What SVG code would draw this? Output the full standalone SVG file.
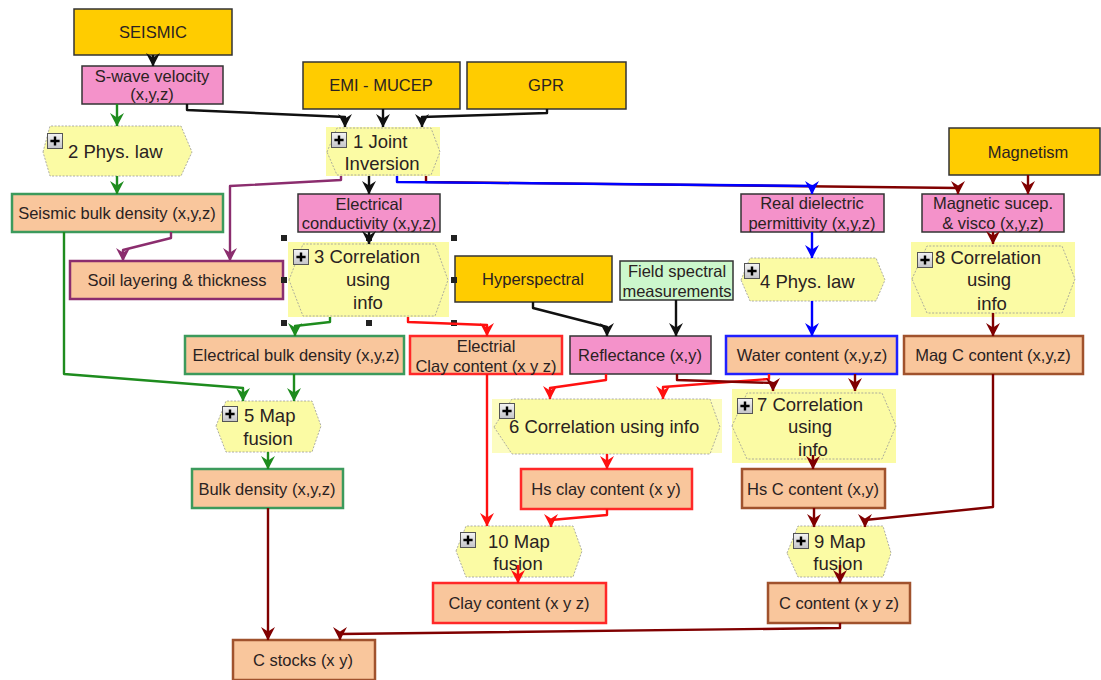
<svg xmlns="http://www.w3.org/2000/svg" width="1101" height="680" viewBox="0 0 1101 680">
<style>
.t{font-family:"Liberation Sans",Arial,sans-serif;font-size:16.5px;fill:#2a2222}
.h{font-size:18.5px}
.m{text-anchor:middle}
.o{fill:#FFCC00;stroke:#333;stroke-width:1.5}
.p{fill:#F492CA;stroke:#333;stroke-width:1.5}
.gl{fill:#CCF7CC;stroke:#333;stroke-width:1.5}
.k{fill:#F9C69C;stroke-width:2.5}
.bg{fill:#FBFBA4}
.hx{fill:#FBFBA4;stroke:#999;stroke-width:0.8;stroke-dasharray:2 1.5}
.sg{stroke:#3C9A5C}.sr{stroke:#FF2828}.sb{stroke:#2020FF}.sp{stroke:#8B2D6E}.sn{stroke:#A0522D}
.c{fill:none;stroke-width:2.4;stroke-linejoin:round}
.ck{stroke:#111}.cg{stroke:#1E8C1E}.cp{stroke:#8B2D6E}.cb{stroke:#0000FF}.cd{stroke:#800000}.cr{stroke:#FF1010}
.hd{fill:#222}
</style>
<defs>
<linearGradient id="pg" x1="0" y1="0" x2="0" y2="1"><stop offset="0" stop-color="#F4F4F4"/><stop offset="1" stop-color="#C4C4C8"/></linearGradient>
<symbol id="plus" viewBox="0 0 16 16" width="16" height="16" overflow="visible">
<rect x="0.5" y="0.5" width="15" height="15" fill="url(#pg)" stroke="#555" stroke-width="1"/>
<path d="M8 3.4V12.6M3.4 8H12.6" stroke="#000" stroke-width="2.4"/>
</symbol>
<marker id="ak" viewBox="-14 -8 15 16" refX="0" refY="0" markerWidth="15" markerHeight="16" markerUnits="userSpaceOnUse" orient="auto"><path d="M0.5,0 L-13,-7 L-8.5,0 L-13,7 Z" fill="#111"/></marker>
<marker id="ag" viewBox="-14 -8 15 16" refX="0" refY="0" markerWidth="15" markerHeight="16" markerUnits="userSpaceOnUse" orient="auto"><path d="M0.5,0 L-13,-7 L-8.5,0 L-13,7 Z" fill="#1E8C1E"/></marker>
<marker id="ap" viewBox="-14 -8 15 16" refX="0" refY="0" markerWidth="15" markerHeight="16" markerUnits="userSpaceOnUse" orient="auto"><path d="M0.5,0 L-13,-7 L-8.5,0 L-13,7 Z" fill="#8B2D6E"/></marker>
<marker id="ab" viewBox="-14 -8 15 16" refX="0" refY="0" markerWidth="15" markerHeight="16" markerUnits="userSpaceOnUse" orient="auto"><path d="M0.5,0 L-13,-7 L-8.5,0 L-13,7 Z" fill="#0000FF"/></marker>
<marker id="ad" viewBox="-14 -8 15 16" refX="0" refY="0" markerWidth="15" markerHeight="16" markerUnits="userSpaceOnUse" orient="auto"><path d="M0.5,0 L-13,-7 L-8.5,0 L-13,7 Z" fill="#800000"/></marker>
<marker id="ar" viewBox="-14 -8 15 16" refX="0" refY="0" markerWidth="15" markerHeight="16" markerUnits="userSpaceOnUse" orient="auto"><path d="M0.5,0 L-13,-7 L-8.5,0 L-13,7 Z" fill="#FF1010"/></marker>
</defs>
<rect width="1101" height="680" fill="#fff"/>

<!-- source nodes -->
<g id="seismic"><rect class="o" x="74" y="9" width="158" height="46"/><text class="t m" x="153" y="38">SEISMIC</text></g>
<g id="emi"><rect class="o" x="303" y="62" width="157" height="47"/><text class="t m" x="381" y="91">EMI - MUCEP</text></g>
<g id="gpr"><rect class="o" x="467" y="62" width="159" height="47"/><text class="t m" x="546" y="91">GPR</text></g>
<g id="magnetism"><rect class="o" x="949" y="128" width="151" height="47"/><text class="t m" x="1028" y="158">Magnetism</text></g>
<g id="hyperspectral"><rect class="o" x="455" y="256" width="157" height="46"/><text class="t m" x="533" y="285">Hyperspectral</text></g>
<g id="field"><rect class="gl" x="620" y="261" width="113" height="39"/><text class="t m" x="677" y="277">Field spectral</text><text class="t m" x="677" y="297">measurements</text></g>

<!-- pink -->
<g id="swave"><rect class="p" x="82" y="66" width="141" height="38"/><text class="t m" x="152" y="82">S-wave velocity</text><text class="t m" x="152" y="100">(x,y,z)</text></g>
<g id="elcond"><rect class="p" x="298" y="194" width="142" height="38"/><text class="t m" x="369" y="210">Electrical</text><text class="t m" x="369" y="229">conductivity (x,y,z)</text></g>
<g id="realdiel"><rect class="p" x="741" y="194" width="143" height="38"/><text class="t m" x="812" y="209">Real dielectric</text><text class="t m" x="812" y="229">permittivity (x,y,z)</text></g>
<g id="magsus"><rect class="p" x="922" y="194" width="142" height="38"/><text class="t m" x="993" y="209">Magnetic sucep.</text><text class="t m" x="993" y="229">&amp; visco (x,y,z)</text></g>
<g id="reflect"><rect class="p" x="570" y="336" width="141" height="38"/><text class="t m" x="640" y="361">Reflectance (x,y)</text></g>

<!-- peach -->
<g id="seisbulk"><rect class="k sg" x="12" y="194" width="211" height="38"/><text class="t m" x="117" y="219">Seismic bulk density (x,y,z)</text></g>
<g id="soil"><rect class="k sp" x="70" y="261" width="213" height="38"/><text class="t m" x="177" y="286">Soil layering &amp; thickness</text></g>
<g id="elbulk"><rect class="k sg" x="185" y="336" width="219" height="38"/><text class="t m" x="296" y="361">Electrical bulk density (x,y,z)</text></g>
<g id="elclay"><rect class="k sr" x="410" y="336" width="152" height="38"/><text class="t m" x="486" y="352">Electrial</text><text class="t m" x="486" y="372">Clay content (x y z)</text></g>
<g id="water"><rect class="k sb" x="726" y="336" width="171" height="38"/><text class="t m" x="812" y="361">Water content (x,y,z)</text></g>
<g id="magc"><rect class="k sn" x="904" y="336" width="179" height="38"/><text class="t m" x="993" y="361">Mag C content (x,y,z)</text></g>
<g id="bulk"><rect class="k sg" x="192" y="469" width="151" height="39"/><text class="t m" x="267" y="495">Bulk density (x,y,z)</text></g>
<g id="hsclay"><rect class="k sr" x="521" y="469" width="171" height="40"/><text class="t m" x="606" y="495">Hs clay content (x y)</text></g>
<g id="hsc"><rect class="k sn" x="742" y="469" width="143" height="39"/><text class="t m" x="813" y="495">Hs C content (x,y)</text></g>
<g id="clay"><rect class="k sr" x="433" y="583" width="173" height="40"/><text class="t m" x="519" y="609">Clay content (x y z)</text></g>
<g id="ccontent"><rect class="k sn" x="768" y="583" width="142" height="40"/><text class="t m" x="839" y="609">C content (x y z)</text></g>
<g id="cstocks"><rect class="k sn" x="233" y="640" width="142" height="40"/><text class="t m" x="303" y="666">C stocks (x y)</text></g>

<!-- process hexagons -->
<g id="p1"><rect class="bg" x="326" y="127" width="114" height="49"/><polygon class="hx" points="327,152 337,128 431,128 440,152 431,175 337,175"/><use href="#plus" x="331" y="132"/><text class="t h" x="353" y="148">1 Joint</text><text class="t h m" x="382" y="170">Inversion</text></g>
<g id="p2"><polygon class="hx" points="43,152 50,126 181,126 192,152 181,176 50,176"/><use href="#plus" x="47" y="133"/><text class="t h" x="68" y="158">2 Phys. law</text></g>
<g id="p3"><rect class="bg" x="288" y="242" width="161" height="75"/><polygon class="hx" points="289,280 303,244 435,244 448,280 435,316 303,316"/><use href="#plus" x="293" y="249"/><text class="t h" x="314" y="263">3 Correlation</text><text class="t h m" x="368" y="286">using</text><text class="t h m" x="368" y="309">info</text>
<g class="hd"><rect x="281" y="235" width="6" height="6"/><rect x="366" y="235" width="6" height="6"/><rect x="451" y="235" width="6" height="6"/><rect x="281" y="277" width="6" height="6"/><rect x="451" y="277" width="6" height="6"/><rect x="281" y="320" width="6" height="6"/><rect x="366" y="320" width="6" height="6"/><rect x="451" y="320" width="6" height="6"/></g></g>
<g id="p4"><polygon class="hx" points="741,280 750,258 876,258 885,280 876,301 750,301"/><use href="#plus" x="744" y="263"/><text class="t h" x="760" y="288">4 Phys. law</text></g>
<g id="p5"><polygon class="hx" points="216,426 226,401 312,401 321,426 312,452 226,452"/><use href="#plus" x="222" y="406"/><text class="t h" x="244" y="422">5 Map</text><text class="t h m" x="268" y="445">fusion</text></g>
<g id="p6"><rect class="bg" x="492" y="399" width="230" height="54" opacity="0.7"/><polygon class="hx" points="494,427 512,399 710,399 720,427 710,454 512,454"/><use href="#plus" x="499" y="403"/><text class="t h" x="509" y="433">6 Correlation using info</text></g>
<g id="p7"><rect class="bg" x="732" y="389" width="164" height="74"/><polygon class="hx" points="732,426 747,393 882,393 896,426 882,459 747,459"/><use href="#plus" x="737" y="398"/><text class="t h" x="757" y="411">7 Correlation</text><text class="t h m" x="810" y="433">using</text><text class="t h m" x="813" y="456">info</text></g>
<g id="p8"><rect class="bg" x="911" y="242" width="164" height="75"/><polygon class="hx" points="912,279 927,246 1062,246 1075,279 1062,313 927,313"/><use href="#plus" x="917" y="252"/><text class="t h" x="935" y="264">8 Correlation</text><text class="t h m" x="989" y="286">using</text><text class="t h m" x="992" y="310">info</text></g>
<g id="p9"><polygon class="hx" points="787,553 798,526 883,526 891,553 883,577 798,577"/><use href="#plus" x="793" y="533"/><text class="t h" x="814" y="548">9 Map</text><text class="t h m" x="838" y="570">fusion</text></g>
<g id="p10"><polygon class="hx" points="456,551 466,526 573,526 582,551 573,577 466,577"/><use href="#plus" x="460" y="532"/><text class="t h" x="488" y="548">10 Map</text><text class="t h m" x="518" y="570">fusion</text></g>

<!-- connectors -->
<g id="connectors">
<polyline class="c ck" marker-end="url(#ak)" points="153,55 153,66"/>
<polyline class="c ck" marker-end="url(#ak)" points="187,104 187,110 345,117 345,127"/>
<polyline class="c ck" marker-end="url(#ak)" points="383,109 383,127"/>
<polyline class="c ck" marker-end="url(#ak)" points="547,109 547,113 422,117 422,127"/>
<polyline class="c ck" marker-end="url(#ak)" points="369,176 369,194"/>
<polyline class="c ck" marker-end="url(#ak)" points="369,232 369,244"/>
<polyline class="c ck" marker-end="url(#ak)" points="533,302 533,308 607,327 607,336"/>
<polyline class="c ck" marker-end="url(#ak)" points="676,300 676,336"/>

<polyline class="c cg" marker-end="url(#ag)" points="117,104 117,126"/>
<polyline class="c cg" marker-end="url(#ag)" points="117,176 117,194"/>
<polyline class="c cg" marker-end="url(#ag)" points="64,232 64,374 243,388 243,401"/>
<polyline class="c cg" marker-end="url(#ag)" points="330,317 330,322 295,326 295,336"/>
<polyline class="c cg" marker-end="url(#ag)" points="294,374 294,401"/>
<polyline class="c cg" marker-end="url(#ag)" points="268,452 268,469"/>

<polyline class="c cp" marker-end="url(#ap)" points="171,232 171,238 123,250 123,261"/>
<polyline class="c cp" marker-end="url(#ap)" points="341,176 341,180 230,186 230,261"/>

<polyline class="c cd" marker-end="url(#ad)" points="426,176 426,182 958,188 958,194"/>
<polyline class="c cb" marker-end="url(#ab)" points="397,176 397,182 812,186 812,194"/>
<polyline class="c cb" marker-end="url(#ab)" points="812,232 812,258"/>
<polyline class="c cb" marker-end="url(#ab)" points="812,301 812,336"/>

<polyline class="c cr" marker-end="url(#ar)" points="408,317 408,322 487,325 487,336"/>
<polyline class="c cr" marker-end="url(#ar)" points="487,374 487,526"/>
<polyline class="c cr" marker-end="url(#ar)" points="606,374 606,380 550,388 550,399"/>
<polyline class="c cr" marker-end="url(#ar)" points="769,374 769,379 663,387 663,399"/>
<polyline class="c cr" marker-end="url(#ar)" points="607,454 607,469"/>
<polyline class="c cr" marker-end="url(#ar)" points="607,509 607,515 551,520 551,527"/>
<polyline class="c cr" marker-end="url(#ar)" points="518,565 518,583"/>

<polyline class="c cd" marker-end="url(#ad)" points="1028,175 1028,194"/>
<polyline class="c cd" marker-end="url(#ad)" points="993,232 993,244"/>
<polyline class="c cd" marker-end="url(#ad)" points="993,313 993,336"/>
<polyline class="c cd" marker-end="url(#ad)" points="677,374 677,380 773,383 773,391"/>
<polyline class="c cd" marker-end="url(#ad)" points="855,374 855,391"/>
<polyline class="c cd" marker-end="url(#ad)" points="813,455 813,469"/>
<polyline class="c cd" marker-end="url(#ad)" points="814,508 814,527"/>
<polyline class="c cd" marker-end="url(#ad)" points="993,374 993,507 865,520 865,527"/>
<polyline class="c cd" marker-end="url(#ad)" points="840,565 840,583"/>
<polyline class="c cd" marker-end="url(#ad)" points="268,508 268,640"/>
<polyline class="c cd" marker-end="url(#ad)" points="840,623 840,628 340,634 340,640"/>
</g>
</svg>
